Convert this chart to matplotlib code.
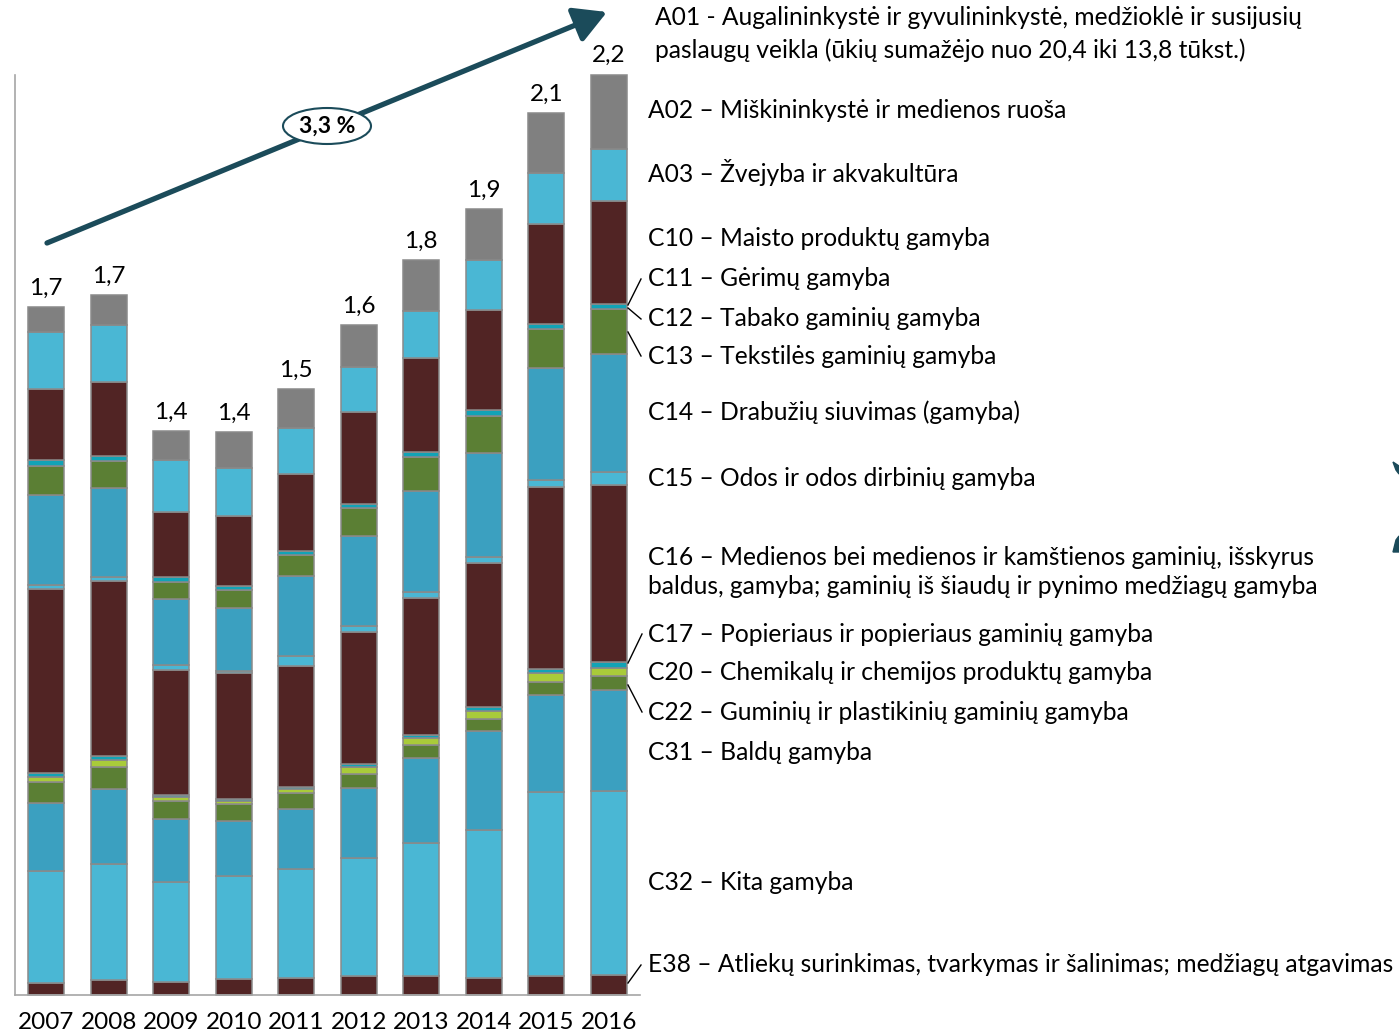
import numpy as np
import matplotlib.pyplot as plt
from matplotlib.patches import Ellipse, FancyArrowPatch, Polygon

plt.rcParams['font.family'] = ['Lato', 'DejaVu Sans']

years = ["2007", "2008", "2009", "2010", "2011", "2012", "2013", "2014", "2015", "2016"]

# activity values per year, stacked from the bottom up
e38 = [0.029, 0.035, 0.031, 0.039, 0.041, 0.047, 0.045, 0.041, 0.045, 0.049]
c32 = [0.271, 0.280, 0.241, 0.247, 0.264, 0.284, 0.322, 0.357, 0.446, 0.444]
c31 = [0.163, 0.183, 0.153, 0.135, 0.143, 0.168, 0.204, 0.239, 0.232, 0.243]
c22 = [0.051, 0.053, 0.042, 0.039, 0.040, 0.035, 0.032, 0.029, 0.032, 0.034]
c20 = [0.013, 0.016, 0.010, 0.008, 0.008, 0.016, 0.017, 0.020, 0.023, 0.020]
c17 = [0.009, 0.010, 0.006, 0.006, 0.006, 0.008, 0.008, 0.008, 0.008, 0.013]
c16 = [0.443, 0.422, 0.301, 0.304, 0.291, 0.317, 0.331, 0.349, 0.440, 0.427]
c15 = [0.010, 0.010, 0.012, 0.004, 0.025, 0.016, 0.014, 0.014, 0.016, 0.032]
c14 = [0.218, 0.214, 0.159, 0.151, 0.192, 0.217, 0.244, 0.251, 0.271, 0.285]
c13 = [0.070, 0.065, 0.042, 0.044, 0.051, 0.066, 0.081, 0.090, 0.094, 0.109]
c11 = [0.013, 0.013, 0.011, 0.009, 0.011, 0.011, 0.012, 0.013, 0.013, 0.012]
c10 = [0.172, 0.179, 0.157, 0.170, 0.184, 0.221, 0.228, 0.242, 0.241, 0.249]
a03 = [0.137, 0.137, 0.125, 0.116, 0.112, 0.110, 0.113, 0.120, 0.123, 0.125]
a02 = [0.060, 0.071, 0.071, 0.087, 0.095, 0.101, 0.122, 0.123, 0.145, 0.179]

growth_label = "3,3 %"

labels = [
    ("A01 - Augalininkystė ir gyvulininkystė, medžioklė ir susijusių\n"
     "paslaugų veikla (ūkių sumažėjo nuo 20,4 iki 13,8 tūkst.)", 655, 34, 1.45),
    ("A02 – Miškininkystė ir medienos ruoša", 648, 110, 1.2),
    ("A03 – Žvejyba ir akvakultūra", 648, 173, 1.2),
    ("C10 – Maisto produktų gamyba", 648, 239, 1.2),
    ("C11 – Gėrimų gamyba", 648, 279, 1.2),
    ("C12 – Tabako gaminių gamyba", 648, 318, 1.2),
    ("C13 – Tekstilės gaminių gamyba", 648, 357, 1.2),
    ("C14 – Drabužių siuvimas (gamyba)", 648, 412, 1.2),
    ("C15 – Odos ir odos dirbinių gamyba", 648, 478, 1.2),
    ("C16 – Medienos bei medienos ir kamštienos gaminių, išskyrus\n"
     "baldus, gamyba; gaminių iš šiaudų ir pynimo medžiagų gamyba", 648, 572, 1.3),
    ("C17 – Popieriaus ir popieriaus gaminių gamyba", 648, 634, 1.2),
    ("C20 – Chemikalų ir chemijos produktų gamyba", 648, 673, 1.2),
    ("C22 – Guminių ir plastikinių gaminių gamyba", 648, 713, 1.2),
    ("C31 – Baldų gamyba", 648, 752, 1.2),
    ("C32 – Kita gamyba", 648, 882, 1.2),
    ("E38 – Atliekų surinkimas, tvarkymas ir šalinimas; medžiagų atgavimas", 648, 965, 1.2),
]

maroon = "#512424"
light_blue = "#4AB7D4"
teal_blue = "#3BA0C0"
green = "#5B7F34"
lime = "#A9CB3A"
cyan = "#12A3B6"
grey = "#808080"
dark_teal = "#1B4B5A"

stack = [
    (e38, maroon), (c32, light_blue), (c31, teal_blue), (c22, green),
    (c20, lime), (c17, cyan), (c16, maroon), (c15, light_blue),
    (c14, teal_blue), (c13, green), (c11, cyan), (c10, maroon),
    (a03, light_blue), (a02, grey),
]

fig = plt.figure(figsize=(13.99, 10.34), dpi=100)
ax = fig.add_axes([15 / 1399, 39 / 1034, 625 / 1399, 920 / 1034])

x = np.arange(len(years))
bottom = np.zeros(len(years))
for values, color in stack:
    ax.bar(x, values, width=0.575, bottom=bottom, color=color,
           edgecolor="#8A8A8A", linewidth=1.1, clip_on=False)
    bottom += np.array(values)

for xi, total in zip(x, bottom):
    ax.annotate(f"{total:.1f}".replace(".", ","), (xi, total),
                xytext=(0, 6), textcoords="offset points",
                ha="center", va="bottom", fontsize=17.5)

ax.set_xlim(-0.5, 9.5)
ax.set_ylim(0, 2.22)
ax.set_xticks(x)
ax.set_xticklabels(years, fontsize=17.5)
ax.tick_params(axis="x", length=0, pad=12)
ax.set_yticks([])
for side in ["top", "right"]:
    ax.spines[side].set_visible(False)
for side in ["left", "bottom"]:
    ax.spines[side].set_color("#A6A6A6")
    ax.spines[side].set_linewidth(1.2)

# overlay in pixel coordinates for the arrow, callouts and legend text
ov = fig.add_axes([0, 0, 1, 1])
ov.set_xlim(0, 1399)
ov.set_ylim(1034, 0)
ov.axis("off")
ov.patch.set_alpha(0)

arrow = FancyArrowPatch((47, 243), (607, 12),
                        arrowstyle="-|>,head_length=0.9,head_width=0.5",
                        mutation_scale=22, lw=3.8, color=dark_teal,
                        shrinkA=0, shrinkB=0)
ov.add_patch(arrow)
ov.add_patch(Ellipse((327, 126), 88, 36, facecolor="white",
                     edgecolor=dark_teal, lw=1.5, zorder=3))
ov.text(327, 126, growth_label, ha="center", va="center",
        fontsize=16.5, fontweight="bold", zorder=4)

for text, tx, ty, spacing in labels:
    ov.text(tx, ty, text, ha="left", va="center", fontsize=17.7,
            linespacing=spacing)

# leader lines from the thin segments to their labels
leaders = [((628, 305), (641, 279)), ((628, 308), (641, 319)),
           ((628, 332), (641, 356)), ((628, 663), (642, 634)),
           ((628, 685), (642, 712)), ((628, 983), (641, 965))]
for (x0, y0), (x1, y1) in leaders:
    ov.plot([x0, x1], [y0, y1], color="black", lw=1.0)

# brace tips cut off at the right edge
ov.add_patch(Polygon([(1393, 462), (1399, 466), (1399, 474), (1396, 470)],
                     closed=True, color=dark_teal))
ov.add_patch(Polygon([(1396, 540), (1399, 536), (1399, 552), (1393, 552)],
                     closed=True, color=dark_teal))

fig.savefig("out.png", dpi=100)
